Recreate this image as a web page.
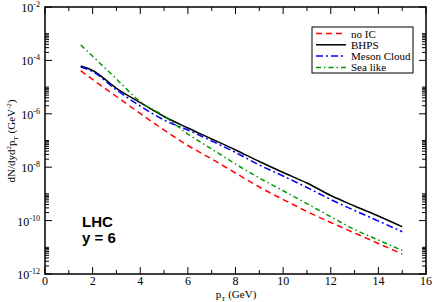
<!DOCTYPE html>
<html>
<head>
<meta charset="utf-8">
<script src="https://cdn.jsdelivr.net/npm/d3@7"></script>
<style>
  body { margin: 0; background: #fff; }
  svg { display: block; }
  .serif { font-family: 'Liberation Serif', 'DejaVu Serif', serif; }
  .sans { font-family: 'Liberation Sans', 'DejaVu Sans', sans-serif; }
</style>
</head>
<body>
<div id="chart"></div>
<script>
// pT grid (GeV)
let pT = [1.5, 2, 3, 4, 5, 6, 7, 8, 9, 10, 11, 12, 13, 14, 15]

// dN/dy d2pT (GeV^-2)
let noIC = [4.11e-5, 1.93e-5, 4.45e-6, 1.03e-6, 2.47e-7, 6.5e-8, 2.03e-8, 6.07e-9, 1.81e-9, 6.17e-10, 2.19e-10, 8.49e-11, 3.44e-11, 1.39e-11, 5.61e-12]
let bhps = [6.17e-5, 4.2e-5, 9.02e-6, 2.61e-6, 7.92e-7, 2.94e-7, 1.14e-7, 4.41e-8, 1.63e-8, 6.33e-9, 2.56e-9, 8.71e-10, 3.52e-10, 1.49e-10, 5.91e-11]
let mesonCloud = [5.66e-5, 3.8e-5, 7.78e-6, 1.96e-6, 5.86e-7, 2.47e-7, 9.57e-8, 3.56e-8, 1.21e-8, 4.68e-9, 1.74e-9, 6.17e-10, 2.39e-10, 9.66e-11, 3.84e-11]
let seaLike = [3.78e-4, 1.43e-4, 2.01e-5, 2.84e-6, 8.28e-7, 1.75e-7, 4.8e-8, 1.32e-8, 3.94e-9, 1.31e-9, 4.3e-10, 1.4e-10, 4.65e-11, 1.88e-11, 7.59e-12]

let seriesNames = ['no IC', 'BHPS', 'Meson Cloud', 'Sea like']

let xTicks = [0, 2, 4, 6, 8, 10, 12, 14, 16]
let xMinorTicks = [1, 3, 5, 7, 9, 11, 13, 15]
let yExponents = [-2, -4, -6, -8, -10, -12]

let width = 434
let height = 302
let margin = { top: 7, left: 45, right: 8, bottom: 28 }

let svg = d3
  .select('#chart')
  .append('svg')
  .attr('width', width)
  .attr('height', height)

let xScale = d3
  .scaleLinear()
  .domain([0, 16])
  .range([margin.left, width - margin.right])

let yScale = d3
  .scaleLog()
  .domain([1e-12, 1e-2])
  .range([height - margin.bottom, margin.top])

let styles = [
  { color: '#ff0000', dash: '6,4' },
  { color: '#000000', dash: null },
  { color: '#0000ff', dash: '7,3,2,3' },
  { color: '#009a00', dash: '5,3,1.5,3' }
]

let series = [noIC, bhps, mesonCloud, seaLike].map((values, i) => ({
  name: seriesNames[i],
  style: styles[i],
  points: values.map((v, j) => ({ x: pT[j], y: v }))
}))

let line = d3
  .line()
  .curve(d3.curveMonotoneX)
  .x(d => xScale(d.x))
  .y(d => yScale(d.y))

// curves
svg
  .selectAll('.curve')
  .data(series)
  .enter()
  .append('path')
  .attr('class', 'curve')
  .attr('d', d => line(d.points))
  .attr('fill', 'none')
  .attr('stroke', d => d.style.color)
  .attr('stroke-width', 1.5)
  .attr('stroke-dasharray', d => d.style.dash)

// frame
let x0 = xScale(0)
let x1 = xScale(16)
let y0 = yScale(1e-12)
let y1 = yScale(1e-2)

svg
  .append('rect')
  .attr('x', x0)
  .attr('y', y1)
  .attr('width', x1 - x0)
  .attr('height', y0 - y1)
  .attr('fill', 'none')
  .attr('stroke', '#000')
  .attr('stroke-width', 1.5)

// x ticks (bottom + top, inward)
let xTickData = xTicks.map(v => ({ v: v, len: 7 }))
  .concat(xMinorTicks.map(v => ({ v: v, len: 4 })))

svg
  .selectAll('.xtick-b')
  .data(xTickData)
  .enter()
  .append('line')
  .attr('x1', d => xScale(d.v))
  .attr('x2', d => xScale(d.v))
  .attr('y1', y0)
  .attr('y2', d => y0 - d.len)
  .attr('stroke', '#000')

svg
  .selectAll('.xtick-t')
  .data(xTickData)
  .enter()
  .append('line')
  .attr('x1', d => xScale(d.v))
  .attr('x2', d => xScale(d.v))
  .attr('y1', y1)
  .attr('y2', d => y1 + d.len)
  .attr('stroke', '#000')

svg
  .selectAll('.xlabel')
  .data(xTicks)
  .enter()
  .append('text')
  .attr('class', 'serif')
  .attr('x', d => xScale(d))
  .attr('y', y0 + 11)
  .attr('text-anchor', 'middle')
  .attr('font-size', 12)
  .text(d => d)

// y ticks: majors every two decades, minors at k * 10^e
let yTickData = []
yExponents.forEach(e => {
  yTickData.push({ v: Math.pow(10, e), len: 7 })
  if (e < -2) {
    for (let k = 2; k <= 10; k++) {
      yTickData.push({ v: k * Math.pow(10, e), len: 4 })
    }
  }
})

svg
  .selectAll('.ytick-l')
  .data(yTickData)
  .enter()
  .append('line')
  .attr('x1', x0)
  .attr('x2', d => x0 + d.len)
  .attr('y1', d => yScale(d.v))
  .attr('y2', d => yScale(d.v))
  .attr('stroke', '#000')

svg
  .selectAll('.ytick-r')
  .data(yTickData)
  .enter()
  .append('line')
  .attr('x1', x1)
  .attr('x2', d => x1 - d.len)
  .attr('y1', d => yScale(d.v))
  .attr('y2', d => yScale(d.v))
  .attr('stroke', '#000')

let ylabels = svg
  .selectAll('.ylabel')
  .data(yExponents)
  .enter()
  .append('text')
  .attr('class', 'serif')
  .attr('x', x0 - 5)
  .attr('y', d => yScale(Math.pow(10, d)) + 5)
  .attr('text-anchor', 'end')
  .attr('font-size', 12)

ylabels.append('tspan').text('10')
ylabels
  .append('tspan')
  .attr('dy', -5)
  .attr('font-size', 8)
  .text(d => '-' + Math.abs(d))

// axis titles
let xTitle = svg
  .append('text')
  .attr('class', 'serif')
  .attr('x', 236)
  .attr('y', 298)
  .attr('text-anchor', 'middle')
  .attr('font-size', 11)
xTitle.append('tspan').text('p')
xTitle.append('tspan').attr('dy', 3).attr('font-size', 7).text('T')
xTitle.append('tspan').attr('dy', -3).text(' (GeV)')

let yTitle = svg
  .append('text')
  .attr('class', 'serif')
  .attr('transform', 'translate(15,141) rotate(-90)')
  .attr('text-anchor', 'middle')
  .attr('font-size', 11)
yTitle.append('tspan').text('dN/dyd')
yTitle.append('tspan').attr('dy', -4).attr('font-size', 7).text('2')
yTitle.append('tspan').attr('dy', 4).text('p')
yTitle.append('tspan').attr('dy', 3).attr('font-size', 7).text('T')
yTitle.append('tspan').attr('dy', -3).text(' (GeV')
yTitle.append('tspan').attr('dy', -4).attr('font-size', 7).text('-2')
yTitle.append('tspan').attr('dy', 4).text(')')

// LHC annotation
svg
  .append('text')
  .attr('class', 'sans')
  .attr('x', 82)
  .attr('y', 227)
  .attr('font-weight', 'bold')
  .attr('font-size', 15)
  .text('LHC')

svg
  .append('text')
  .attr('class', 'sans')
  .attr('x', 82)
  .attr('y', 243)
  .attr('font-weight', 'bold')
  .attr('font-size', 15)
  .text('y = 6')

// legend
let legend = svg.append('g').attr('transform', 'translate(312,27)')

legend
  .append('rect')
  .attr('width', 101)
  .attr('height', 46)
  .attr('fill', '#fff')
  .attr('stroke', '#000')
  .attr('stroke-width', 1)

let rows = legend
  .selectAll('.row')
  .data(series)
  .enter()
  .append('g')
  .attr('transform', (d, i) => `translate(0,${6.5 + i * 11.3})`)

rows
  .append('line')
  .attr('x1', 4)
  .attr('x2', 34)
  .attr('stroke', d => d.style.color)
  .attr('stroke-width', 1.5)
  .attr('stroke-dasharray', d => d.style.dash)

rows
  .append('text')
  .attr('class', 'serif')
  .attr('x', 39)
  .attr('y', 4)
  .attr('font-size', 11)
  .text(d => d.name)
</script>
</body>
</html>
